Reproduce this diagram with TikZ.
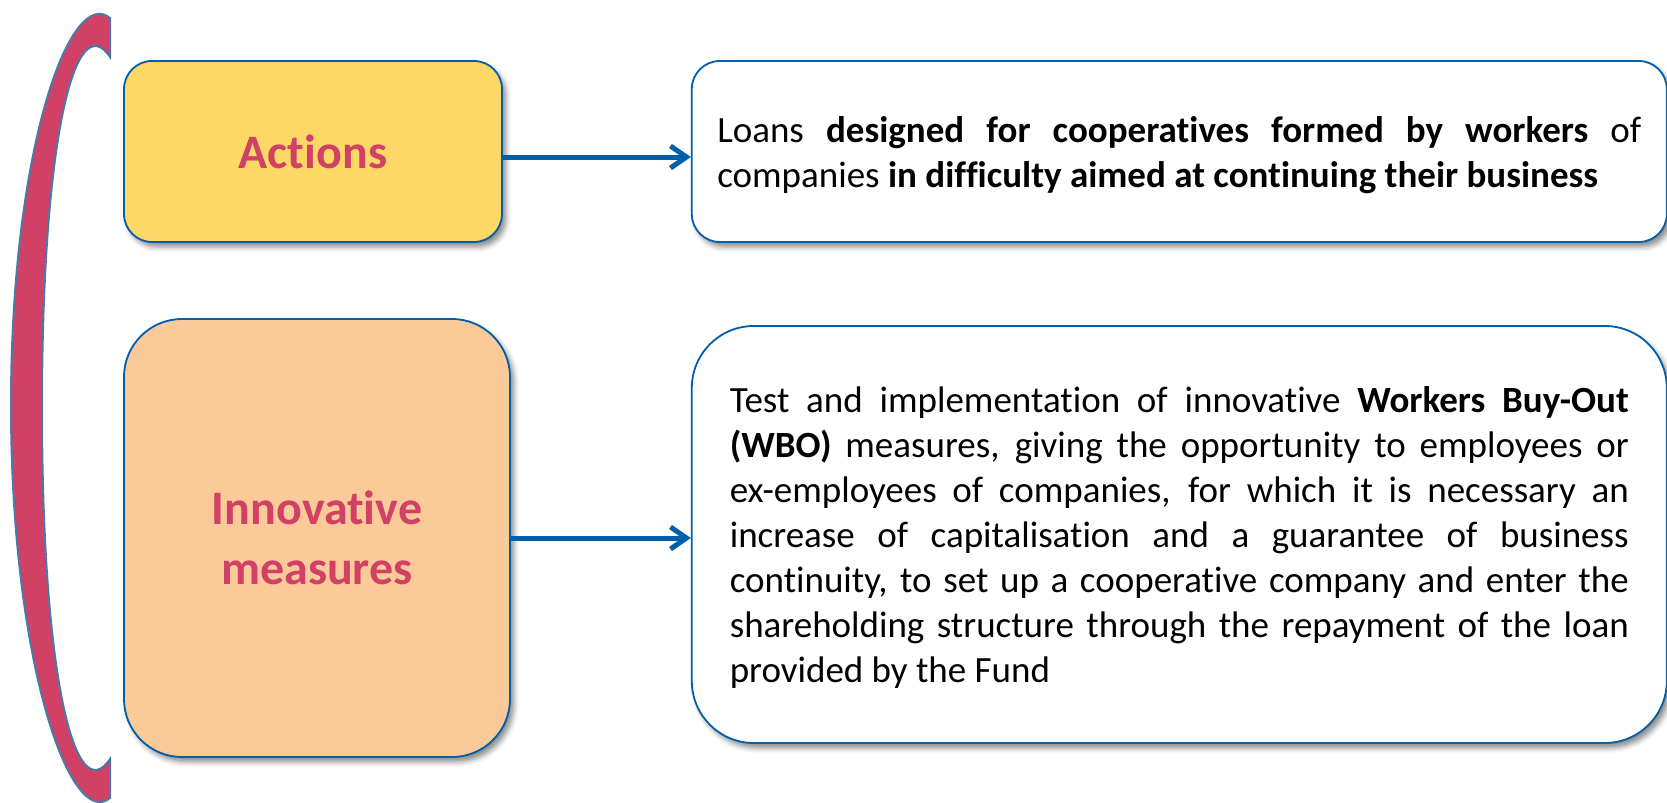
\documentclass[tikz,border=0pt]{standalone}
\usepackage{fontspec}
\setmainfont{Carlito}[Ligatures=NoCommon]
\usetikzlibrary{arrows.meta, positioning, shadows.blur}
\definecolor{wboblue}{RGB}{0, 94, 170}
\definecolor{wbored}{RGB}{209, 64, 101}
\definecolor{wboyellow}{RGB}{253, 216, 103}
\definecolor{wbopeach}{RGB}{252, 202, 152}
\definecolor{wbosteel}{RGB}{74, 122, 170}
\hyphenpenalty=10000
\tikzset{
  softshadow/.style={
    blur shadow={shadow xshift=2pt, shadow yshift=-2.5pt,
      shadow blur radius=2.5pt, shadow opacity=45}
  },
  headbox/.style={
    rectangle, draw=wboblue, line width=0.9pt,
    text=wbored, align=center, inner sep=0pt,
    font=\fontsize{24}{30}\selectfont\bfseries,
    softshadow
  },
  % first baseline sits text depth/2 above the box centre
  descbox/.style={
    rectangle, draw=wboblue, fill=white, line width=0.9pt,
    minimum width=487.5pt, align=justify, inner sep=0pt,
    font=\fontsize{18.5}{22.5}\selectfont, text height=0pt,
    softshadow
  },
  arr/.style={-{Straight Barb[length=8pt, width=11pt]}, line width=2.5pt, color=wboblue},
}

\begin{document}
\begin{tikzpicture}[x=0.5pt, y=-0.5pt]
  \useasboundingbox (0,0) rectangle (1667,803);

  % brace on the left
  \filldraw[fill=wbored, draw=wbosteel, line width=1pt]
    (110,18) .. controls (70,-15) and (11,150) .. (11,405)
    .. controls (11,660) and (70,831) .. (110,798)
    -- (110,759)
    .. controls (75,811) and (42,676) .. (42,408)
    .. controls (42,140) and (75,5) .. (110,57) -- cycle;

  \node[headbox, fill=wboyellow, rounded corners=14pt,
        minimum width=189pt, minimum height=90.5pt] (act) at (313,151.5) {Actions};
  \node[headbox, fill=wbopeach, rounded corners=29pt,
        minimum width=193pt, minimum height=219pt] (innov) at (317,538) {Innovative\\measures};

  \node[descbox, rounded corners=14pt, minimum height=90.5pt, text width=462pt,
        text depth=9.5pt, right=94pt of act] (loans)
    {Loans \textbf{designed for cooperatives formed by workers} of\linebreak
     companies \textbf{in difficulty aimed at continuing their business}};
  \node[descbox, rounded corners=31pt, minimum height=208.5pt, text width=449.5pt,
        text depth=122.5pt, right=90pt of innov, yshift=1.75pt] (wbo)
    {Test and implementation of innovative \textbf{Workers Buy-Out}\linebreak
     \textbf{(WBO)} measures, giving the opportunity to employees or\linebreak
     ex-employees of companies, for which it is necessary an\linebreak
     increase of capitalisation and a guarantee of business\linebreak
     continuity, to set up a cooperative company and enter the\linebreak
     shareholding structure through the repayment of the loan\linebreak
     provided by the Fund};

  \draw[arr] ([yshift=-2.75pt]act.east) -- ([yshift=-2.75pt]loans.west);
  \draw[arr] (innov.east) -- (innov.east -| wbo.west);
\end{tikzpicture}
\end{document}
